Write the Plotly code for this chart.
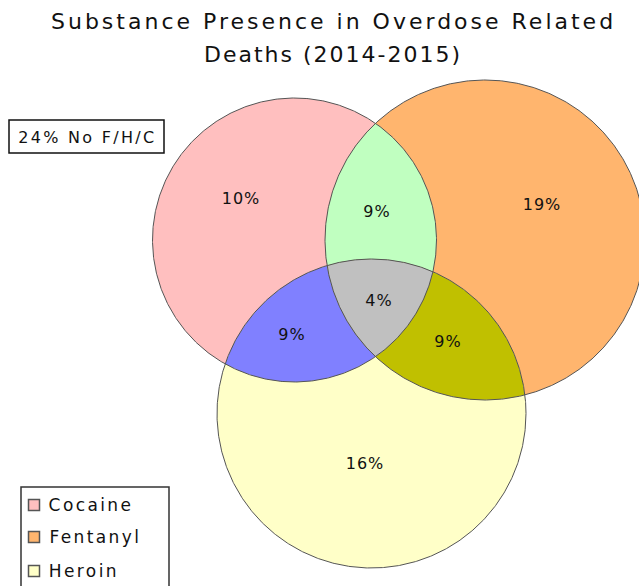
import json
import numpy as np
import plotly.graph_objects as go

# ---- data ----
sets = ["Cocaine", "Fentanyl", "Heroin"]
set_colors = ["#FFBFBF", "#FFB56E", "#FFFFC8"]
# circle geometry (chart units)
centers_x = [294.5, 485.0, 371.5]
centers_y = [240.0, 240.0, 413.5]
radii = [142.0, 160.0, 154.5]

region_labels = ["10%", "19%", "16%", "9%", "9%", "9%", "4%"]
region_members = [(0,), (1,), (2,), (0, 1), (0, 2), (1, 2), (0, 1, 2)]
region_colors = [None, None, None, "#C0FFC0", "#8080FF", "#C0C000", "#C0C0C0"]
label_x = [241, 542, 365, 377, 292, 448, 379]
label_y = [200, 206, 465, 213, 336, 343, 302]

outside_label = "24% No F/H/C"
title_lines = ["Substance Presence in Overdose Related", "Deaths (2014-2015)"]

FONT = "DejaVu Sans"
W, H = 639, 586

LEG_SP = 2.4
spacing = {title_lines[0]: 3.0, title_lines[1]: 2.0, outside_label: 2.3}
for s in sets:
    spacing[s] = LEG_SP
for r in region_labels:
    spacing[r] = 1.0


def circle_pts(i, n=720):
    t = np.linspace(0, 2 * np.pi, n, endpoint=False)
    return centers_x[i] + radii[i] * np.cos(t), centers_y[i] + radii[i] * np.sin(t)


def inside(x, y, j, eps=1e-6):
    return (x - centers_x[j]) ** 2 + (y - centers_y[j]) ** 2 <= radii[j] ** 2 * (1 + eps)


def intersection_poly(members):
    xs, ys = [], []
    for i in members:
        cx, cy = circle_pts(i, 2000)
        m = np.ones_like(cx, dtype=bool)
        for j in members:
            if j != i:
                m &= inside(cx, cy, j, 1e-3)
        xs.append(cx[m]); ys.append(cy[m])
    xs = np.concatenate(xs); ys = np.concatenate(ys)
    mx, my = xs.mean(), ys.mean()
    order = np.argsort(np.arctan2(ys - my, xs - mx))
    xs, ys = xs[order], ys[order]
    return np.append(xs, xs[0]), np.append(ys, ys[0])


fig = go.Figure()

# base circles
for i in range(3):
    x, y = circle_pts(i)
    fig.add_trace(go.Scatter(x=np.append(x, x[0]), y=np.append(y, y[0]), fill="toself",
                             fillcolor=set_colors[i], line=dict(width=0), name=sets[i],
                             mode="lines", hoverinfo="skip", showlegend=False))

# overlap regions
for k, mem in enumerate(region_members):
    if len(mem) < 2:
        continue
    x, y = intersection_poly(mem)
    fig.add_trace(go.Scatter(x=x, y=y, fill="toself", fillcolor=region_colors[k],
                             line=dict(width=0), mode="lines", hoverinfo="skip",
                             showlegend=False))

# outlines
for i in range(3):
    x, y = circle_pts(i)
    fig.add_trace(go.Scatter(x=np.append(x, x[0]), y=np.append(y, y[0]), mode="lines",
                             line=dict(color="#555555", width=1), hoverinfo="skip",
                             showlegend=False))

# region labels
fig.add_trace(go.Scatter(x=label_x, y=label_y, mode="text", text=region_labels,
                         textfont=dict(family=FONT, size=16, color="#111111"),
                         hoverinfo="skip", showlegend=False))

shapes = []
annotations = []

# title
for k, line in enumerate(title_lines):
    annotations.append(dict(x=333, y=21 + 33 * k, xref="x", yref="y", text=line,
                            showarrow=False, xanchor="center", yanchor="middle",
                            font=dict(family=FONT, size=22, color="#111111")))

# outside box
shapes.append(dict(type="rect", xref="x", yref="y", x0=9, x1=164, y0=120, y1=153,
                   line=dict(color="#111111", width=1.5), fillcolor="white"))
annotations.append(dict(x=87, y=137, xref="x", yref="y", text=outside_label,
                        showarrow=False, font=dict(family=FONT, size=16, color="#111111")))

# legend (box + swatches + labels)
shapes.append(dict(type="rect", xref="x", yref="y", x0=21, x1=169, y0=487, y1=620,
                   line=dict(color="#333333", width=1.5), fillcolor="white"))
leg_y = [505, 537, 571]
for i, s in enumerate(sets):
    shapes.append(dict(type="rect", xref="x", yref="y", x0=28.5, x1=39.5,
                       y0=leg_y[i] - 5.5, y1=leg_y[i] + 5.5,
                       line=dict(color="#555555", width=1.5), fillcolor=set_colors[i]))
    annotations.append(dict(x=47 + len(s) * LEG_SP / 2, y=leg_y[i], xref="x", yref="y",
                            text=s, showarrow=False, xanchor="left", yanchor="middle",
                            font=dict(family=FONT, size=17, color="#111111")))

fig.update_layout(
    width=W, height=H,
    margin=dict(l=0, r=0, t=0, b=0),
    paper_bgcolor="white", plot_bgcolor="white",
    xaxis=dict(range=[0, W], visible=False, fixedrange=True),
    yaxis=dict(range=[H, 0], visible=False, fixedrange=True),
    showlegend=False,
    hovermode=False,
    shapes=shapes,
    annotations=annotations,
)

post = """
document.documentElement.style.margin = '0';
document.documentElement.style.overflow = 'hidden';
document.body.style.margin = '0';
document.body.style.padding = '0';
document.body.style.overflow = 'hidden';
var gd = document.getElementById('{plot_id}');
var SP = %s;
gd.querySelectorAll('text').forEach(function(t){
  var key = t.textContent;
  if (SP.hasOwnProperty(key)) { t.style.letterSpacing = SP[key] + 'px'; }
});
""" % json.dumps(spacing)

fig.write_html("out.html", post_script=post, config={"displayModeBar": False})
